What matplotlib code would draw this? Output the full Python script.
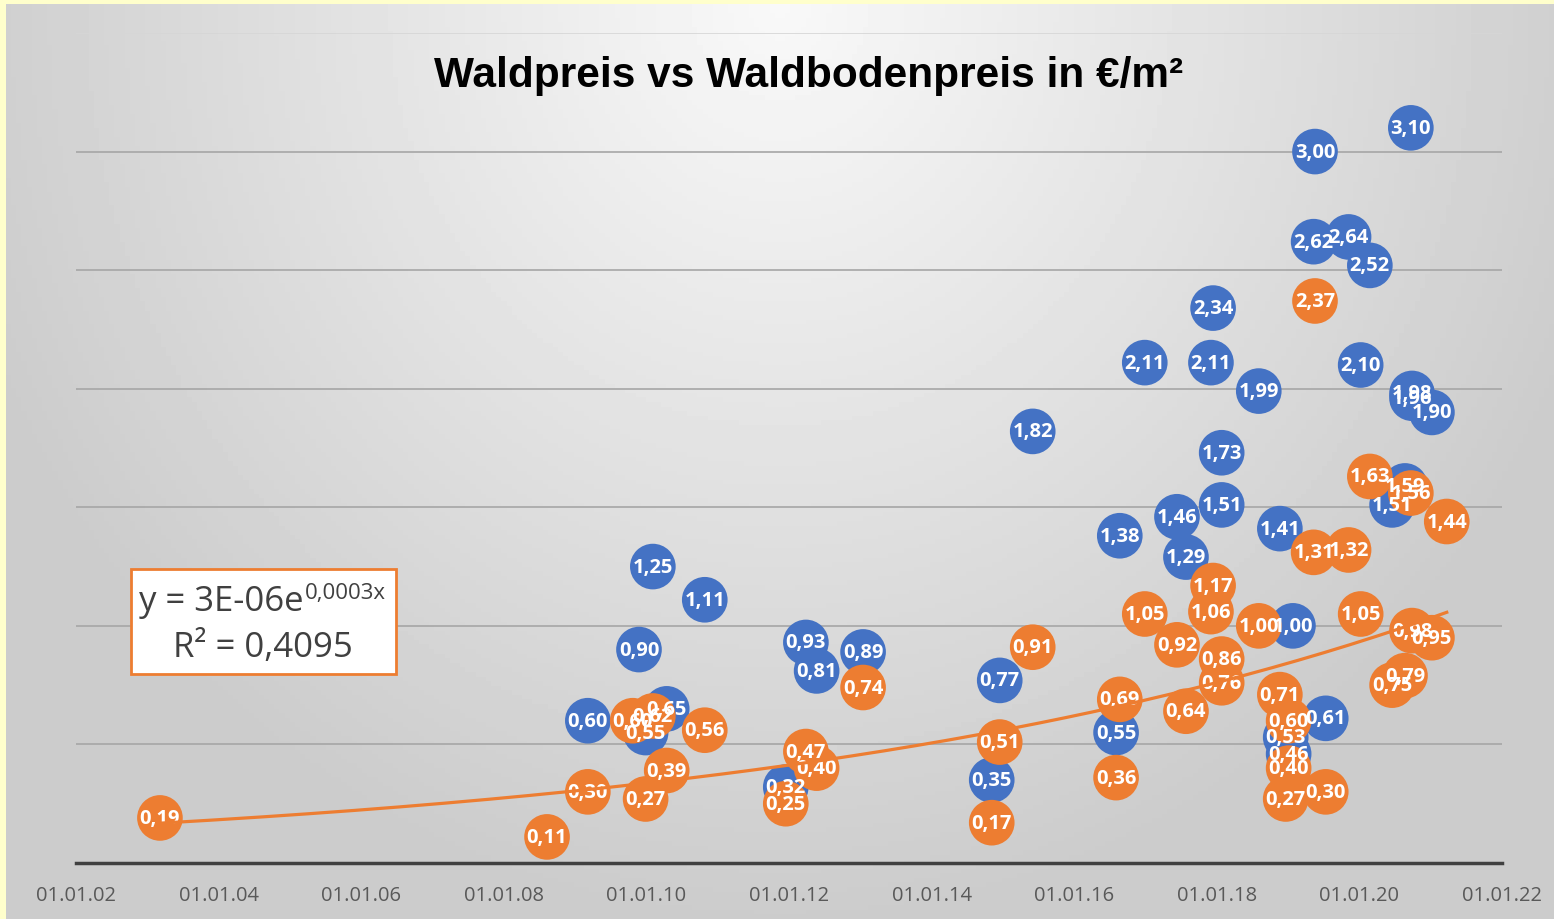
import numpy as np
import matplotlib
matplotlib.use("Agg")
import matplotlib.pyplot as plt
import matplotlib.dates as mdates
import matplotlib.patches as patches
import pandas as pd

# Waldpreis (blue) in EUR/m2
blau_datum = ["2009-03-07", "2009-11-24", "2009-12-28", "2010-02-03", "2010-04-15",
              "2010-10-27", "2011-12-16", "2012-03-28", "2012-05-22", "2013-01-15",
              "2014-11-05", "2014-12-16", "2015-06-03", "2016-08-03", "2016-08-22",
              "2016-12-28", "2017-06-11", "2017-07-27", "2017-12-02", "2017-12-13",
              "2018-01-26", "2018-01-26", "2018-08-04", "2018-11-20", "2018-12-20",
              "2019-01-04", "2019-01-26", "2019-05-12", "2019-05-19", "2019-07-13",
              "2019-11-07", "2020-01-08", "2020-02-24", "2020-06-17", "2020-08-22",
              "2020-09-21", "2020-09-27", "2020-09-27", "2021-01-07"]
blau_wert = [0.60, 0.90, 0.55, 1.25, 0.65,
             1.11, 0.32, 0.93, 0.81, 0.89,
             0.35, 0.77, 1.82, 0.55, 1.38,
             2.11, 1.46, 1.29, 2.11, 2.34,
             1.73, 1.51, 1.99, 1.41, 0.53,
             0.46, 1.00, 2.62, 3.00, 0.61,
             2.64, 2.10, 2.52, 1.51, 1.59,
             3.10, 1.98, 1.96, 1.90]

# Waldbodenpreis (orange) in EUR/m2
orange_datum = ["2003-03-07", "2008-08-10", "2009-03-07", "2009-10-23", "2009-12-28",
                "2010-02-03", "2010-04-15", "2010-10-27", "2011-12-16", "2012-03-28",
                "2012-05-22", "2013-01-15", "2014-11-05", "2014-12-16", "2015-06-03",
                "2016-08-03", "2016-08-22", "2016-12-28", "2017-06-11", "2017-07-27",
                "2017-12-02", "2017-12-13", "2018-01-26", "2018-01-26", "2018-08-04",
                "2018-11-20", "2018-12-20", "2019-01-04", "2019-01-04", "2019-05-12",
                "2019-05-19", "2019-07-13", "2019-11-07", "2020-01-08", "2020-02-24",
                "2020-06-17", "2020-08-22", "2020-09-21", "2020-09-27", "2021-01-07",
                "2021-03-24"]
orange_wert = [0.19, 0.11, 0.30, 0.60, 0.27,
               0.62, 0.39, 0.56, 0.25, 0.47,
               0.40, 0.74, 0.17, 0.51, 0.91,
               0.36, 0.69, 1.05, 0.92, 0.64,
               1.06, 1.17, 0.86, 0.76, 1.00,
               0.71, 0.27, 0.60, 0.40, 1.31,
               2.37, 0.30, 1.32, 1.05, 1.63,
               0.75, 0.79, 1.56, 0.98, 0.95,
               1.44]

x_ticks = ["2002-01-01", "2004-01-01", "2006-01-01", "2008-01-01", "2010-01-01",
           "2012-01-01", "2014-01-01", "2016-01-01", "2018-01-01", "2020-01-01",
           "2022-01-01"]

blau = "#4472C4"
orange = "#ED7D31"
font = ["Open Sans", "DejaVu Sans"]

fig = plt.figure(figsize=(15.54, 9.2), dpi=100)
fig.patch.set_facecolor("#FFFFCC")

# gradient background
bg = fig.add_axes([6 / 1554, 0, 1 - 6 / 1554, 1 - 5 / 920])
yy, xx = np.mgrid[0:1:200j, 0:1:300j]
r = np.sqrt(((xx - 0.5) / 0.55) ** 2 + (yy / 1.0) ** 2)
grad = 0.975 - 0.175 * np.clip(r, 0, 1.0)
bg.imshow(grad, cmap="gray", vmin=0, vmax=1, aspect="auto", extent=[0, 1, 1, 0])
bg.set_axis_off()

ax = fig.add_axes([76 / 1554, 56 / 920, 1426 / 1554, 830 / 920])
ax.patch.set_alpha(0)

bd = pd.to_datetime(blau_datum)
od = pd.to_datetime(orange_datum)

ax.scatter(bd, blau_wert, s=1080, color=blau, edgecolors="none", zorder=3)
ax.scatter(od, orange_wert, s=1080, color=orange, edgecolors="none", zorder=4)
for d, v in zip(bd, blau_wert):
    ax.text(d, v, f"{v:.2f}".replace(".", ","), color="white", ha="center", va="center",
            fontsize=14.5, fontweight="bold", family=font, zorder=5)
for d, v in zip(od, orange_wert):
    ax.text(d, v, f"{v:.2f}".replace(".", ","), color="white", ha="center", va="center",
            fontsize=14.5, fontweight="bold", family=font, zorder=5)

# exponential trendline fitted to the orange series (Excel serial dates)
serial = (od - pd.Timestamp("1899-12-30")).days.values.astype(float)
b, a = np.polyfit(serial, np.log(orange_wert), 1)
xs = np.linspace(serial.min(), serial.max(), 200)
xd = pd.Timestamp("1899-12-30") + pd.to_timedelta(xs, unit="D")
ax.plot(xd, np.exp(a) * np.exp(b * xs), color=orange, lw=2.3, zorder=6)

ax.set_xlim(pd.Timestamp(x_ticks[0]), pd.Timestamp(x_ticks[-1]))
ax.set_ylim(0, 3.5)
ax.set_xticks(pd.to_datetime(x_ticks))
ax.xaxis.set_major_formatter(mdates.DateFormatter("%d.%m.%y"))
ax.set_yticks(np.arange(0, 3.51, 0.5))
ax.yaxis.grid(True, color="#a6a6a6", lw=1.2, zorder=0)
ax.get_ygridlines()[-1].set_color("#d6d6d6")
ax.set_axisbelow(True)
ax.tick_params(axis="y", left=False, labelleft=False)
ax.tick_params(axis="x", length=0, pad=16, labelsize=14.5, labelcolor="#595959")
for lab in ax.get_xticklabels():
    lab.set_family(font)
for s in ["top", "right", "left"]:
    ax.spines[s].set_visible(False)
ax.spines["bottom"].set_color("#404040")
ax.spines["bottom"].set_linewidth(2.5)

fig.text(809 / 1554, 1 - 76 / 920, "Waldpreis vs Waldbodenpreis in €/m²", ha="center",
         va="center", fontsize=30.5, fontweight="bold", family=["Liberation Sans", "DejaVu Sans"])

# trendline equation box
fig.patches.append(patches.Rectangle((131 / 1554, 1 - 675 / 920), 265 / 1554, 105 / 920,
                                     transform=fig.transFigure, facecolor="white",
                                     edgecolor=orange, lw=2, zorder=7))
fig.text(139 / 1554, 1 - 602 / 920, "y = 3E-06e", ha="left", va="center", fontsize=25,
         color="#404040", family=font, zorder=8)
fig.text(305 / 1554, 1 - 593 / 920, "0,0003x", ha="left", va="center", fontsize=16,
         color="#404040", family=font, zorder=8)
fig.text(263 / 1554, 1 - 648 / 920, "R² = 0,4095", ha="center", va="center", fontsize=25,
         color="#404040", family=font, zorder=8)

fig.savefig("out.png", dpi=100, facecolor=fig.get_facecolor())
